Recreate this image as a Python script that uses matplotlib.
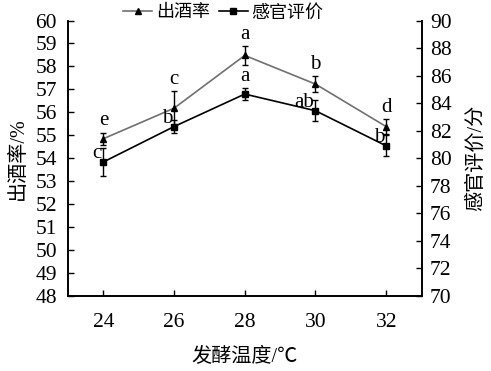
import numpy as np
import matplotlib
matplotlib.use("Agg")
import matplotlib.pyplot as plt
from matplotlib.lines import Line2D

plt.rcParams['font.family'] = ['Liberation Serif', 'Noto Sans CJK SC', 'DejaVu Sans']

# 数据
temp = [24, 26, 28, 30, 32]
yield_rate = [54.85, 56.18, 58.48, 57.23, 55.38]
yield_err = [0.27, 0.76, 0.40, 0.35, 0.33]
yield_sig = ['e', 'c', 'a', 'b', 'd']
sensory = [79.73, 82.3, 84.66, 83.45, 80.9]
sensory_err = [1.0, 0.48, 0.41, 0.75, 0.77]
sensory_sig = ['c', 'b', 'a', 'ab', 'b']

fig = plt.figure(figsize=(4.91, 3.71), dpi=100)
ax = fig.add_axes([0.1385, 0.2022, 0.72, 0.7425])
ax2 = ax.twinx()

gray = '#707070'
ax.plot(temp, yield_rate, color=gray, lw=1.2, zorder=2)
ax.errorbar(temp, yield_rate, yerr=yield_err, fmt='^', color='black',
            ms=5, capsize=2.5, elinewidth=1.0, capthick=1.0, zorder=3)
ax2.plot(temp, sensory, color='black', lw=1.2, zorder=2)
ax2.errorbar(temp, sensory, yerr=sensory_err, fmt='s', color='black',
             ms=4.5, capsize=2.5, elinewidth=1.0, capthick=1.0, zorder=3)

# 显著性字母
for x, y, e, s in zip(temp, yield_rate, yield_err, yield_sig):
    ax.annotate(s, (x, y + e), xytext=(0, 1.5), textcoords='offset points',
                ha='center', va='bottom', fontsize=15)
for x, y, e, s in zip(temp, sensory, sensory_err, sensory_sig):
    if s == 'a':
        ax2.annotate(s, (x, y + e), xytext=(0, 1.5), textcoords='offset points',
                     ha='center', va='bottom', fontsize=15)
    else:
        ax2.annotate(s, (x, y), xytext=(-1, -1), textcoords='offset points',
                     ha='right', va='bottom', fontsize=15)

ax.set_xlim(23, 33)
ax.set_ylim(48, 60)
ax.set_yticks(np.arange(48, 61, 1))
ax.set_xticks(temp)
ax2.set_ylim(70, 90)
ax2.set_yticks(np.arange(70, 91, 2))

for a in (ax, ax2):
    a.spines['top'].set_visible(False)
    a.tick_params(direction='in', labelsize=15.5, length=4, width=1)
    for sp in a.spines.values():
        sp.set_linewidth(1.2)
ax.tick_params(axis='x', pad=12)
ax.tick_params(axis='y', pad=8)
ax2.tick_params(axis='y', pad=6)

ax.set_xlabel('发酵温度/℃', fontsize=14.5, labelpad=12)
ax.set_ylabel('出酒率/%', fontsize=14.5, labelpad=5)
ax2.set_ylabel('感官评价/分', fontsize=14.5, labelpad=11)

handles = [
    Line2D([], [], color=gray, lw=1.2, marker='^', mfc='black', mec='black', ms=5),
    Line2D([], [], color='black', lw=1.2, marker='s', mfc='black', mec='black', ms=4.5),
]
fig.legend(handles, ['出酒率', '感官评价'], loc='center', bbox_to_anchor=(0.455, 0.965),
           ncol=2, frameon=False, fontsize=13, handlelength=1.6, handletextpad=0.2,
           columnspacing=0.5)

fig.savefig('out.png', dpi=100)
